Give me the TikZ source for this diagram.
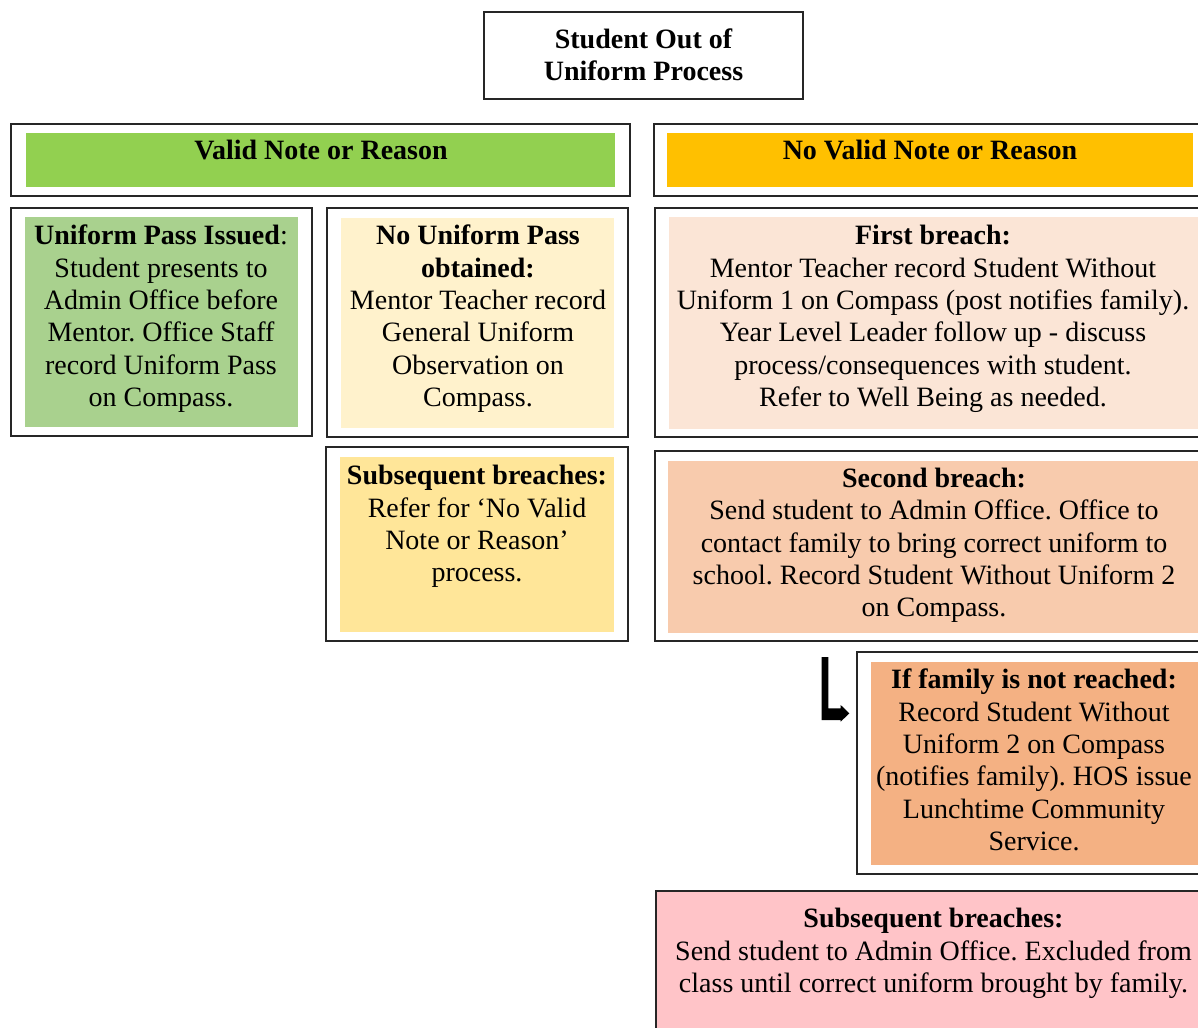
\documentclass[tikz,border=0pt]{standalone}
\usepackage{fontspec}
\setmainfont{Liberation Serif}
\usetikzlibrary{arrows.meta}
\frenchspacing
\definecolor{hdrgreen}{HTML}{92D050}
\definecolor{hdrorange}{HTML}{FFC000}
\definecolor{passgreen}{HTML}{A9D18E}
\definecolor{nopass}{HTML}{FFF2CC}
\definecolor{subleft}{HTML}{FFE699}
\definecolor{firstb}{HTML}{FBE5D6}
\definecolor{secondb}{HTML}{F8CBAD}
\definecolor{familyb}{HTML}{F4B183}
\definecolor{lastb}{HTML}{FFC4C8}
\newcommand\rbox[6]{\node[#6, anchor=north west, minimum width={#4-#2}, minimum height={#5-#3}] (#1) at (#2,#3) {};}
\newcommand\fst{\rule{0pt}{22pt}}
\tikzset{
  frame/.style={draw=black!85, line width=1.3pt, inner sep=0pt, outer sep=0pt},
  fillbox/.style={draw=none, inner sep=0pt, outer sep=0pt},
  tx/.style={anchor=north, align=center, inner sep=0pt, font=\fontsize{28}{32.4}\selectfont},
  blockarrow/.style={fill=black, draw=none}
}
\begin{document}
\begin{tikzpicture}[x=1pt,y=-1pt]
\useasboundingbox (0,0) rectangle (1198,1027);
\clip (0,0) rectangle (1198,1027);
% title
\rbox{titleframe}{484}{12}{803}{99}{frame}
\node[tx, font=\fontsize{28}{32}\selectfont\bfseries] (title) at (643.5,26.5) {\fst Student Out of\\Uniform Process};
% headers
\rbox{validframe}{11}{124}{630}{196}{frame}
\rbox{validfill}{26}{133}{615}{187}{fillbox, fill=hdrgreen}
\node[tx, font=\fontsize{28}{32.4}\selectfont\bfseries] (validtx) at (321,137.5) {\fst Valid Note or Reason};
\rbox{novalidframe}{654}{124}{1212}{196}{frame}
\rbox{novalidfill}{667}{133}{1193}{187}{fillbox, fill=hdrorange}
\node[tx, font=\fontsize{28}{32.4}\selectfont\bfseries] (novalidtx) at (930,137.5) {\fst No Valid Note or Reason};
% uniform pass issued
\rbox{passframe}{11}{208}{312}{436}{frame}
\rbox{passfill}{25}{217}{298}{427}{fillbox, fill=passgreen}
\node[tx] (passtx) at (161,222.5) {\fst\textbf{Uniform Pass Issued}:\\Student presents to\\Admin Office before\\Mentor. Office Staff\\record Uniform Pass\\on Compass.};
% no uniform pass
\rbox{nopassframe}{327}{208}{628}{437}{frame}
\rbox{nopassfill}{341}{218}{614}{428}{fillbox, fill=nopass}
\node[tx] (nopasstx) at (478,222.5) {\fst\textbf{No Uniform Pass}\\\textbf{obtained:}\\Mentor Teacher record\\General Uniform\\Observation on\\Compass.};
% first breach
\rbox{firstframe}{655}{208}{1212}{437}{frame}
\rbox{firstfill}{669}{217}{1200}{429}{fillbox, fill=firstb}
\node[tx] (firsttx) at (933,222.5) {\fst\textbf{First breach:}\\Mentor Teacher record Student Without\\Uniform 1 on Compass (post notifies family).\\Year Level Leader follow up - discuss\\process/consequences with student.\\Refer to Well Being as needed.};
% subsequent (left)
\rbox{subframe}{326}{447}{628}{641}{frame}
\rbox{subfill}{340}{457}{614}{632}{fillbox, fill=subleft}
\node[tx] (subtx) at (477,462.5) {\fst\textbf{Subsequent breaches:}\\Refer for ‘No Valid\\Note or Reason’\\process.};
% second breach
\rbox{secondframe}{655}{451}{1212}{641}{frame}
\rbox{secondfill}{668}{461}{1200}{633}{fillbox, fill=secondb}
\node[tx, font=\fontsize{28}{32.25}\selectfont] (secondtx) at (934,465.5) {\fst\textbf{Second breach:}\\Send student to Admin Office. Office to\\contact family to bring correct uniform to\\school. Record Student Without Uniform 2\\on Compass.};
% family not reached
\rbox{familyframe}{857}{652}{1212}{874}{frame}
\rbox{familyfill}{871}{662}{1200}{865}{fillbox, fill=familyb}
\node[tx] (familytx) at (1034,666.5) {\fst\textbf{If family is not reached:}\\Record Student Without\\Uniform 2 on Compass\\(notifies family). HOS issue\\Lunchtime Community\\Service.};
% subsequent (bottom)
\rbox{lastframe}{656}{891}{1212}{1045}{frame, fill=lastb}
\node[tx, font=\fontsize{28}{32.5}\selectfont] (lasttx) at (933.5,905.5) {\fst\textbf{Subsequent breaches:}\\Send student to Admin Office. Excluded from\\class until correct uniform brought by family.};
% bent block arrow
\coordinate (arrstart) at (821.7,657);
\coordinate (arrtip) at (849.3,713.3);
\fill[blockarrow] (arrstart) -- (828.3,657) -- (828.3,708.3) -- (840.7,708.3) -- (840.7,705) -- (arrtip) -- (840.7,721.7) -- (840.7,720) -- (821.7,720) -- cycle;
\end{tikzpicture}
\end{document}
